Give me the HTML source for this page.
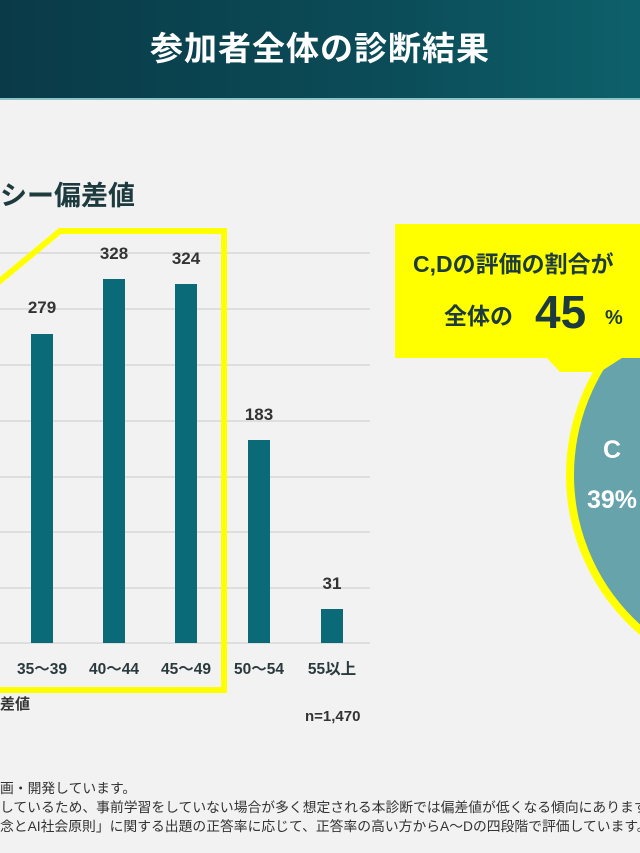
<!DOCTYPE html>
<html><head><meta charset="utf-8"><style>
body{margin:0;width:640px;height:853px;overflow:hidden;background:#f2f2f2;font-family:"Liberation Sans","Noto Sans CJK JP",sans-serif;position:relative}
.hd{position:absolute;left:0;top:0;width:640px;height:98px;background:linear-gradient(90deg,#0a3a47,#0b4c58 60%,#0d606a);border-bottom:2px solid #8cc3c9}
.hd div{text-align:center;color:#fff;font-size:33px;font-weight:bold;line-height:98px;letter-spacing:1px}
.t{position:absolute;white-space:nowrap;color:#333}
</style></head><body>
<div class="hd"><div>参加者全体の診断結果</div></div>
<div class="t" style="left:0;top:174px;font-size:27px;font-weight:bold;color:#1d3b3f">シー偏差値</div>
<svg width="640" height="853" style="position:absolute;left:0;top:0">
<g stroke="#d8d8d8" stroke-width="1.5">
<line x1="0" x2="370" y1="253" y2="253"/><line x1="0" x2="370" y1="309" y2="309"/><line x1="0" x2="370" y1="365" y2="365"/><line x1="0" x2="370" y1="421" y2="421"/><line x1="0" x2="370" y1="477" y2="477"/><line x1="0" x2="370" y1="532" y2="532"/><line x1="0" x2="370" y1="588" y2="588"/><line x1="0" x2="370" y1="643" y2="643"/>
</g>
<g fill="#0b6a78">
<rect x="31" y="334" width="22" height="309"/>
<rect x="103" y="279" width="22" height="364"/>
<rect x="175" y="284" width="22" height="359"/>
<rect x="248" y="440" width="22" height="203"/>
<rect x="321" y="609" width="22" height="34"/>
</g>
<g font-size="17" font-weight="bold" fill="#333" text-anchor="middle" font-family="Liberation Sans,sans-serif">
<text x="42" y="313">279</text><text x="114" y="259">328</text><text x="186" y="264">324</text><text x="259" y="420">183</text><text x="332" y="589">31</text>
</g>
<g font-size="15.5" font-weight="bold" fill="#2a3a3c" text-anchor="middle">
<text x="42" y="674">35〜39</text><text x="114" y="674">40〜44</text><text x="186" y="674">45〜49</text><text x="259" y="674">50〜54</text><text x="332" y="674">55以上</text>
</g>
<polyline points="-5,285 60,231 224,231 224,690 -5,690" fill="none" stroke="#ffff00" stroke-width="6"/>
<circle cx="776" cy="475" r="206" fill="#66a3ab" stroke="#ffff00" stroke-width="8"/>
<rect x="395" y="224" width="250" height="134" fill="#ffff00"/>
<polygon points="545,356 625,356 600,372 560,372" fill="#ffff00"/>
<text x="612" y="458" font-size="25" font-weight="bold" fill="#fff" text-anchor="middle">C</text>
<text x="612" y="508" font-size="25" font-weight="bold" fill="#fff" text-anchor="middle">39%</text>
<text x="413" y="272" font-size="23" font-weight="bold" fill="#1d3b3f">C,Dの評価の割合が</text>
<text x="444" y="324" font-size="23" font-weight="bold" fill="#1d3b3f">全体の</text>
<text x="535" y="328" font-size="46" font-weight="bold" fill="#1d3b3f">45</text>
<text x="605" y="324" font-size="20" font-weight="bold" fill="#1d3b3f">%</text>
</svg>
<div class="t" style="left:0;top:693px;font-size:15px;font-weight:bold">差値</div>
<div class="t" style="left:305px;top:708px;font-size:15px;font-weight:bold">n=1,470</div>
<div class="t" style="left:0;top:779px;font-size:13.8px;line-height:19px">画・開発しています。<br>しているため、事前学習をしていない場合が多く想定される本診断では偏差値が低くなる傾向にあります。<br>念とAI社会原則」に関する出題の正答率に応じて、正答率の高い方からA〜Dの四段階で評価しています。</div>
</body></html>
